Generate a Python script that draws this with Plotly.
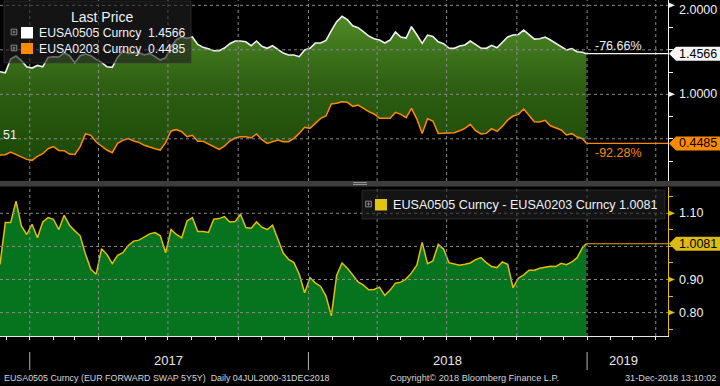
import pandas as pd
import plotly.graph_objects as go

# ---------------- data (weekly readings, last point = 31-Dec-2018) ----------------
dates = list(pd.date_range("2016-11-23", periods=110, freq="7D").strftime("%Y-%m-%d")) + ["2018-12-31"]

eusa0505 = [1.254, 1.242, 1.397, 1.430, 1.378, 1.310, 1.295, 1.325, 1.310, 1.415,
            1.423, 1.419, 1.464, 1.434, 1.356, 1.434, 1.453, 1.434, 1.393, 1.359,
            1.310, 1.303, 1.415, 1.490, 1.460, 1.460, 1.468, 1.442, 1.460, 1.423,
            1.385, 1.412, 1.532, 1.614, 1.644, 1.629, 1.644, 1.561, 1.528, 1.513,
            1.490, 1.490, 1.520, 1.569, 1.599, 1.599, 1.591, 1.546, 1.599, 1.539,
            1.517, 1.546, 1.509, 1.464, 1.442, 1.442, 1.423, 1.498, 1.517, 1.576,
            1.576, 1.606, 1.715, 1.816, 1.876, 1.839, 1.771, 1.749, 1.704, 1.655,
            1.625, 1.610, 1.576, 1.610, 1.700, 1.644, 1.633, 1.760, 1.670, 1.573,
            1.666, 1.651, 1.591, 1.569, 1.520, 1.517, 1.543, 1.555, 1.599, 1.561,
            1.520, 1.517, 1.550, 1.524, 1.584, 1.644, 1.666, 1.673, 1.722, 1.670,
            1.621, 1.625, 1.644, 1.610, 1.573, 1.539, 1.498, 1.513, 1.479, 1.472,
            1.4566]

eusa0203 = [0.318, 0.322, 0.352, 0.322, 0.296, 0.269, 0.258, 0.303, 0.333, 0.389,
            0.412, 0.370, 0.367, 0.329, 0.325, 0.412, 0.558, 0.539, 0.464, 0.423,
            0.374, 0.344, 0.449, 0.483, 0.502, 0.475, 0.460, 0.427, 0.404, 0.389,
            0.374, 0.457, 0.588, 0.603, 0.580, 0.524, 0.539, 0.472, 0.472, 0.442,
            0.412, 0.382, 0.419, 0.475, 0.509, 0.524, 0.524, 0.509, 0.554, 0.490,
            0.449, 0.468, 0.487, 0.468, 0.468, 0.505, 0.561, 0.629, 0.618, 0.674,
            0.730, 0.756, 0.891, 0.899, 0.917, 0.910, 0.865, 0.880, 0.842, 0.805,
            0.779, 0.730, 0.730, 0.730, 0.797, 0.775, 0.737, 0.842, 0.722, 0.561,
            0.726, 0.700, 0.561, 0.561, 0.561, 0.569, 0.591, 0.618, 0.663, 0.591,
            0.554, 0.561, 0.614, 0.584, 0.640, 0.711, 0.756, 0.775, 0.835, 0.764,
            0.693, 0.689, 0.707, 0.647, 0.625, 0.599, 0.543, 0.558, 0.520, 0.501,
            0.4485]

spread = [0.946, 1.072, 1.072, 1.137, 1.062, 1.036, 1.067, 1.026, 1.074, 1.087,
          1.082, 1.051, 1.094, 1.064, 1.047, 1.032, 0.976, 0.931, 0.916, 0.993,
          0.976, 0.948, 0.973, 0.981, 1.003, 1.016, 1.019, 1.029, 1.038, 1.042,
          1.032, 0.981, 1.051, 1.036, 1.026, 1.077, 1.087, 1.045, 1.045, 1.042,
          1.082, 1.084, 1.090, 1.074, 1.075, 1.097, 1.057, 1.055, 1.074, 1.058,
          1.051, 1.064, 1.022, 0.980, 0.961, 0.951, 0.916, 0.860, 0.906, 0.890,
          0.879, 0.850, 0.790, 0.913, 0.950, 0.934, 0.914, 0.893, 0.883, 0.869,
          0.870, 0.877, 0.852, 0.868, 0.889, 0.892, 0.902, 0.920, 0.943, 1.012,
          0.948, 0.956, 1.006, 0.992, 0.951, 0.946, 0.943, 0.946, 0.950, 0.960,
          0.966, 0.951, 0.939, 0.936, 0.953, 0.946, 0.875, 0.904, 0.914, 0.928,
          0.928, 0.934, 0.936, 0.940, 0.939, 0.949, 0.945, 0.953, 0.966, 0.997,
          1.0081]

last_0505, last_0203, last_spread = 1.4566, 0.4485, 1.0081
chg_0505, chg_0203 = "-76.66%", "-92.28%"
top_labels = [2.0, 1.0]
top_label_text = ["2.0000", "1.0000"]
bot_labels = [1.10, 0.90, 0.80]
bot_label_text = ["1.10", "0.90", "0.80"]
top_grid = [0.5, 1.0, 1.5, 2.0]
bot_grid = [0.8, 0.9, 1.0, 1.1]
top_minor = [0.25, 0.5, 0.75, 1.0, 1.25, 1.5, 1.75, 2.0]
bot_minor = [0.75, 0.80, 0.85, 0.90, 0.95, 1.00, 1.05, 1.10, 1.15]
years = ["2017", "2018", "2019"]
year_starts = ["2017-01-01", "2018-01-01", "2019-01-01"]
year_label_pos = ["2017-07-02", "2018-07-02", "2019-02-18"]
quarters = list(pd.date_range("2017-01-01", "2019-04-01", freq="QS").strftime("%Y-%m-%d"))
months = list(pd.date_range("2016-12-01", "2019-04-01", freq="MS").strftime("%Y-%m-%d"))

X_START, X_END = "2016-11-23", "2019-04-17"

# ---------------- layout helpers ----------------
W, H = 720, 386
def px(x): return x / W
def py(y): return 1 - y / H

FONT = "Liberation Sans, Arial, sans-serif"
WHITE = "#eef2f8"
ORANGE = "#ff8a00"
YELLOW = "#e2c000"
GRID = "#8a8a8a"

fig = go.Figure()
fig.add_trace(go.Scatter(
    x=dates, y=eusa0505, mode="lines", xaxis="x", yaxis="y",
    line=dict(color="#efefef", width=1.6), fill="tozeroy",
    fillgradient=dict(type="vertical",
                      colorscale=[[0, "#1b4706"], [0.5, "#2e5f12"], [1, "#54902a"]],
                      start=0.2, stop=2.0),
    hoverinfo="skip"))
fig.add_trace(go.Scatter(
    x=dates, y=eusa0203, mode="lines", xaxis="x", yaxis="y",
    line=dict(color=ORANGE, width=1.5), fill="tozeroy", fillcolor="#000000",
    hoverinfo="skip"))
fig.add_trace(go.Scatter(
    x=dates, y=spread, mode="lines", xaxis="x2", yaxis="y2",
    line=dict(color=YELLOW, width=1.5), fill="tozeroy", fillcolor="#06731f",
    hoverinfo="skip"))

XD = [0, 668 / W]
fig.update_layout(
    width=W, height=H, margin=dict(l=0, r=0, t=0, b=0),
    paper_bgcolor="black", plot_bgcolor="black", showlegend=False,
    font=dict(family=FONT, color=WHITE),
    xaxis=dict(domain=XD, range=[X_START, X_END], anchor="y", showgrid=False,
               zeroline=False, showticklabels=False, ticks="", showline=False),
    yaxis=dict(domain=[py(181), 1], range=[0.026, 2.06], side="right", anchor="x",
               showgrid=False, zeroline=False, showline=True, linecolor="#f2f2f2",
               linewidth=1, ticks="outside", tickvals=top_minor, ticklen=4,
               tickcolor="#f2f2f2", showticklabels=False),
    xaxis2=dict(domain=XD, range=[X_START, X_END], anchor="y2", showgrid=False,
                zeroline=False, showline=True, linecolor="#e6e6e6", linewidth=1,
                ticks="outside", tickvals=months, ticklen=3, tickcolor="#e6e6e6",
                showticklabels=False),
    yaxis2=dict(domain=[py(336), py(187)], range=[0.7293, 1.1795], side="right",
                anchor="x2", showgrid=False, zeroline=False, showline=True,
                linecolor=YELLOW, linewidth=1, ticks="outside", tickvals=bot_minor,
                ticklen=4, tickcolor=YELLOW, showticklabels=False),
)

shapes = []
dash = dict(color=GRID, width=1, dash="3px,3px")
# grid lines above the fills
for q in quarters:
    shapes.append(dict(type="line", xref="x", yref="y domain", x0=q, x1=q, y0=0, y1=1, line=dash, layer="above"))
    shapes.append(dict(type="line", xref="x2", yref="y2 domain", x0=q, x1=q, y0=0, y1=1, line=dash, layer="above"))
for g in top_grid:
    shapes.append(dict(type="line", xref="x domain", yref="y", x0=0, x1=1, y0=g, y1=g, line=dash, layer="above"))
for g in bot_grid:
    shapes.append(dict(type="line", xref="x2 domain", yref="y2", x0=0, x1=1, y0=g, y1=g, line=dash, layer="above"))

# last-value horizontal lines
shapes.append(dict(type="line", xref="x", yref="y", x0=dates[-1], x1=X_END, y0=last_0505, y1=last_0505,
                   line=dict(color="#f4f4f4", width=1.2), layer="above"))
shapes.append(dict(type="line", xref="x", yref="y", x0=dates[-1], x1=X_END, y0=last_0203, y1=last_0203,
                   line=dict(color=ORANGE, width=1.2), layer="above"))
shapes.append(dict(type="line", xref="x2", yref="y2", x0=dates[-1], x1=X_END, y0=last_spread, y1=last_spread,
                   line=dict(color="#eba21a", width=1.2), layer="above"))

# separator bar between panels
shapes.append(dict(type="rect", xref="paper", yref="paper", x0=0, x1=1, y0=py(186.5), y1=py(181),
                   fillcolor="#3d3d3d", line=dict(width=0), layer="above"))
for yy in (182.6, 184.6):
    shapes.append(dict(type="line", xref="paper", yref="paper", x0=px(353), x1=px(367), y0=py(yy), y1=py(yy),
                       line=dict(color="#9a9a9a", width=1), layer="above"))

# tick flags
for v in top_labels:
    shapes.append(dict(type="path", xref="x domain", yref="y", xsizemode="pixel", ysizemode="pixel",
                       xanchor=1, yanchor=v, path="M 0,3 L 7,0 L 0,-3 Z",
                       fillcolor="#f2f2f2", line=dict(width=0), layer="above"))
for v in bot_labels:
    shapes.append(dict(type="path", xref="x2 domain", yref="y2", xsizemode="pixel", ysizemode="pixel",
                       xanchor=1, yanchor=v, path="M 0,3 L 7,0 L 0,-3 Z",
                       fillcolor=YELLOW, line=dict(width=0), layer="above"))

# last-value tags
tag_path = "M 1,0 L 8,7 L 54,7 L 54,-7 L 8,-7 Z"
shapes.append(dict(type="path", xref="x domain", yref="y", xsizemode="pixel", ysizemode="pixel",
                   xanchor=1, yanchor=last_0505, path=tag_path, fillcolor="#f6f6f6", line=dict(width=0), layer="above"))
shapes.append(dict(type="path", xref="x domain", yref="y", xsizemode="pixel", ysizemode="pixel",
                   xanchor=1, yanchor=last_0203, path=tag_path, fillcolor=ORANGE, line=dict(width=0), layer="above"))
shapes.append(dict(type="path", xref="x2 domain", yref="y2", xsizemode="pixel", ysizemode="pixel",
                   xanchor=1, yanchor=last_spread, path=tag_path, fillcolor="#dcbc12", line=dict(width=0), layer="above"))

# legend boxes (semi-transparent)
def box(x0, y0, x1, y1):
    shapes.append(dict(type="rect", xref="paper", yref="paper", x0=px(x0), x1=px(x1), y0=py(y1), y1=py(y0),
                       fillcolor="rgba(32,32,32,0.62)", line=dict(color="rgba(60,60,60,0.6)", width=1),
                       layer="above"))
box(4, 1, 191, 63)
box(362, 190, 665, 219)

def plusicon(x, y):
    shapes.append(dict(type="rect", xref="paper", yref="paper", x0=px(x - 2.8), x1=px(x + 2.8),
                       y0=py(y + 2.8), y1=py(y - 2.8), line=dict(color="#8c8c8c", width=1),
                       fillcolor="rgba(0,0,0,0)", layer="above"))
    shapes.append(dict(type="line", xref="paper", yref="paper", x0=px(x - 1.5), x1=px(x + 1.5),
                       y0=py(y), y1=py(y), line=dict(color="#8c8c8c", width=1), layer="above"))
    shapes.append(dict(type="line", xref="paper", yref="paper", x0=px(x), x1=px(x),
                       y0=py(y - 1.5), y1=py(y + 1.5), line=dict(color="#8c8c8c", width=1), layer="above"))

def swatch(x0, y0, x1, y1, c):
    shapes.append(dict(type="rect", xref="paper", yref="paper", x0=px(x0), x1=px(x1), y0=py(y1), y1=py(y0),
                       fillcolor=c, line=dict(width=0), layer="above"))

plusicon(14, 32); swatch(21, 27, 33, 38.5, "#ffffff")
plusicon(14, 48); swatch(21, 43, 33, 54, ORANGE)
plusicon(368.5, 204); swatch(375, 199, 387, 210.5, "#e2c412")

# year separators below bottom axis
for d in year_starts:
    shapes.append(dict(type="line", xref="x2", yref="paper", x0=d, x1=d, y0=py(370), y1=py(352),
                       line=dict(color="#b4b4b4", width=1)))

fig.update_layout(shapes=shapes)

ann = []
def text(x, y, s, size=12.5, color=WHITE, xanchor="left", xref="paper", yref="paper"):
    ann.append(dict(x=x, y=y, xref=xref, yref=yref, text=s, showarrow=False, xanchor=xanchor,
                    yanchor="middle", font=dict(family=FONT, size=size, color=color)))

text(px(102), py(17), "Last Price", size=14, xanchor="center")
text(px(37), py(33), "EUSA0505 Curncy\u00a0\u00a01.4566", size=12.2)
text(px(37), py(49), "EUSA0203 Curncy\u00a0\u00a00.4485", size=12.2)
text(px(391), py(204.5), "EUSA0505 Curncy - EUSA0203 Curncy 1.0081", size=12.6)

# top axis labels (2.0000 sits just inside the top edge)
text(px(677), py(10), top_label_text[0])
text(px(677), top_labels[1], top_label_text[1], yref="y")
for v, s in zip(bot_labels, bot_label_text):
    text(px(677), v, s, yref="y2")

text(px(698), last_0505, "1.4566", color="#000000", xanchor="center", yref="y")
text(px(698), last_0203, "0.4485", color="#000000", xanchor="center", yref="y")
text(px(698), last_spread, "1.0081", color="#000000", xanchor="center", yref="y2")

text(px(618), py(46.5), chg_0505, xanchor="center")
text(px(618), py(153), chg_0203, color=ORANGE, xanchor="center")
text(px(0.5), py(135), "51", xanchor="left")

for d, s in zip(year_label_pos, years):
    ann.append(dict(x=d, y=py(360), xref="x2", yref="paper", text=s, showarrow=False,
                    xanchor="center", yanchor="middle", font=dict(family=FONT, size=13, color="#e6e6e6")))

FOOT = "Liberation Sans, Arial, sans-serif"
ann.append(dict(x=px(2), y=py(378), xref="paper", yref="paper", showarrow=False, xanchor="left", yanchor="middle",
                text="EUSA0505 Curncy (EUR FORWARD SWAP 5Y5Y)\u00a0\u00a0Daily 04JUL2000-31DEC2018",
                font=dict(family=FOOT, size=8.9, color="#d6d6d6")))
ann.append(dict(x=px(388), y=py(378), xref="paper", yref="paper", showarrow=False, xanchor="left", yanchor="middle",
                text="Copyright\u00a9 2018 Bloomberg Finance L.P.",
                font=dict(family=FOOT, size=9.2, color="#d6d6d6")))
ann.append(dict(x=px(718), y=py(378), xref="paper", yref="paper", showarrow=False, xanchor="right", yanchor="middle",
                text="31-Dec-2018 13:10:02",
                font=dict(family=FOOT, size=9.2, color="#d6d6d6")))

fig.update_layout(annotations=ann)
fig.write_html("out.html", config={"displayModeBar": False},
               post_script="document.body.style.margin='0';document.body.style.background='black';")
